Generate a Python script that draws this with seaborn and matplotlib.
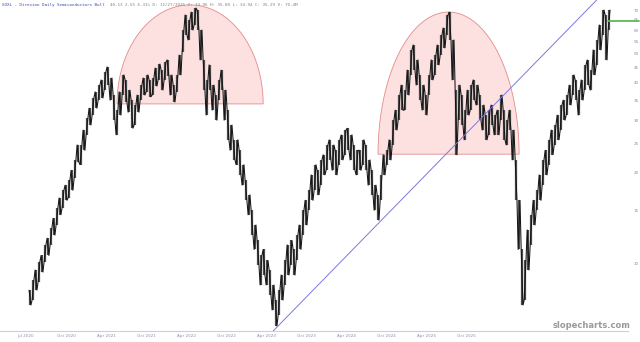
import numpy as np
import pandas as pd
import matplotlib
matplotlib.use("Agg")
import matplotlib.pyplot as plt
import seaborn as sns

# ---- data (price bars) ----
highs = [8.12, 8.77, 9.48, 10.1, 10.6, 11.5, 12.1, 13.1, 14.1, 15.3,
         16.5, 17.5, 18.2, 18.9, 20.4, 22.1, 24.8, 24.8, 27.8, 30.5,
         32.9, 35.6, 37.3, 39.3, 40.9, 43.5, 45.2, 41.5, 36.4, 32.4,
         37.3, 42.5, 40.9, 37.8, 35.0, 33.7, 36.4, 39.3, 41.5, 42.5,
         40.9, 41.5, 44.8, 46.2, 44.1, 46.9, 47.7, 42.5, 39.3, 42.5,
         49.5, 60.0, 67.4, 64.8, 68.9, 71.1, 70.0, 60.0, 47.7, 40.9,
         45.9, 39.3, 36.4, 40.9, 44.1, 37.8, 32.4, 28.9, 25.8, 25.8,
         23.8, 21.3, 18.9, 16.9, 15.0, 13.4, 11.9, 10.6, 11.1, 10.2,
         9.48, 8.45, 7.52, 8.12, 9.12, 10.2, 11.5, 11.9, 11.1, 12.4,
         13.4, 15.0, 16.2, 17.5, 19.7, 21.3, 20.4, 22.1, 23.0, 24.8,
         25.8, 24.8, 23.8, 25.8, 26.8, 27.8, 28.2, 26.8, 24.8, 23.8,
         23.8, 25.8, 24.8, 22.1, 20.4, 18.2, 16.9, 19.7, 23.0, 23.8,
         25.8, 30.0, 32.4, 36.4, 39.3, 37.8, 44.1, 51.5, 53.5, 47.7,
         42.5, 39.3, 36.4, 42.5, 47.7, 49.5, 53.5, 57.8, 61.0, 67.4,
         68.9, 55.6, 37.8, 39.3, 36.4, 32.4, 37.8, 39.3, 40.9, 39.3,
         36.4, 33.7, 31.2, 32.4, 33.7, 31.2, 32.4, 36.4, 32.4, 30.0,
         32.4, 27.8, 22.1, 16.2, 11.1, 10.2, 12.9, 14.5, 16.2, 17.5,
         19.7, 22.1, 23.8, 25.8, 27.8, 28.9, 31.2, 33.7, 35.0, 36.4,
         39.3, 42.5, 40.9, 37.8, 40.9, 45.9, 47.7, 44.1, 51.5, 55.6,
         62.4, 70.0, 67.4, 70.0]
lows = [7.24, 7.52, 8.12, 8.64, 9.33, 10.1, 10.6, 11.5, 12.4, 13.4,
        14.5, 15.3, 16.2, 16.5, 17.5, 19.2, 21.7, 21.3, 23.8, 26.8,
        28.9, 31.2, 32.9, 35.0, 35.6, 37.8, 39.3, 35.0, 30.0, 26.8,
        31.2, 36.4, 34.5, 31.9, 28.2, 28.9, 31.9, 35.0, 36.4, 37.3,
        35.9, 36.4, 39.0, 40.9, 37.8, 40.9, 42.1, 36.4, 34.5, 37.3,
        42.5, 50.7, 57.8, 55.6, 60.0, 62.4, 60.0, 47.7, 37.8, 31.2,
        37.8, 32.4, 30.0, 35.0, 37.8, 30.0, 25.8, 23.8, 22.1, 21.3,
        19.7, 18.2, 16.2, 14.5, 12.4, 11.1, 9.85, 8.45, 9.12, 8.45,
        7.82, 6.97, 6.16, 6.70, 7.52, 8.45, 9.12, 9.85, 9.12, 10.2,
        11.1, 12.4, 13.4, 15.0, 16.2, 17.5, 16.9, 18.2, 19.7, 20.4,
        22.1, 20.4, 19.7, 21.3, 22.1, 23.0, 23.8, 22.1, 20.4, 19.7,
        20.4, 21.3, 20.4, 18.2, 16.9, 15.0, 13.9, 16.2, 19.7, 21.3,
        22.1, 24.8, 27.8, 30.0, 32.4, 32.4, 36.4, 42.5, 44.1, 39.3,
        35.0, 32.4, 31.2, 36.4, 40.9, 42.5, 45.9, 49.5, 52.3, 57.8,
        55.6, 40.9, 23.0, 30.0, 28.9, 25.8, 31.2, 32.4, 35.0, 33.7,
        30.0, 27.8, 25.8, 26.8, 28.9, 26.8, 26.8, 30.0, 25.8, 24.8,
        27.8, 22.1, 16.2, 11.1, 7.24, 7.52, 9.48, 11.5, 13.4, 15.0,
        16.2, 18.2, 19.7, 21.3, 23.0, 24.8, 25.8, 27.8, 30.0, 31.2,
        33.7, 36.4, 35.0, 31.2, 35.0, 37.8, 39.3, 37.8, 42.5, 45.9,
        51.5, 57.8, 47.7, 60.0]

x_labels = ["Jul 2020", "Oct 2020", "Apr 2021", "Oct 2021", "Apr 2022", "Oct 2022",
            "Apr 2023", "Oct 2023", "Apr 2024", "Oct 2024", "Apr 2025", "Oct 2025"]
y_ticks = [10, 15, 20, 25, 30, 35, 40, 45, 50, 55, 60, 65, 70]

# annotations (price levels)
dome1_base, dome1_top = 34.0, 72.8
dome2_base, dome2_top = 23.1, 68.9
trend_p1, trend_p2 = 6.11, 44.8
last_level = 64.3

header_title = "SOXL - Direxion Daily Semiconductors Bull"
header_vals = "40.13 2.55 6.31% D: 11/27/2025 O: 34.96 H: 35.80 L: 34.94 C: 35.29 V: 70.4M"

# ---- figure ----
sns.set_theme(style="white")
fig = plt.figure(figsize=(6.4, 3.42), dpi=100)
ax = fig.add_axes([0, 11 / 342, 628 / 640, 331 / 342])

idx = np.arange(len(highs))
hi = np.array(highs)
lo = np.array(lows)

# zig-zag path through each bar's high and low (alternating order) for a dense bar texture
zx, zy = [], []
for i in idx:
    zx += [i - 0.3, i + 0.3]
    zy += [hi[i], lo[i]] if i % 2 == 0 else [lo[i], hi[i]]
zig = pd.DataFrame({"x": zx, "y": zy})


def dome(x0, x1, base, top):
    t = np.linspace(0, np.pi, 300)
    cx, rx = (x0 + x1) / 2, (x1 - x0) / 2
    lb, lt = np.log(base), np.log(top)
    xs = cx - rx * np.cos(t)
    ys = np.exp(lb + (lt - lb) * np.sin(t))
    ax.fill(xs, ys, facecolor="#fde1e1", edgecolor="#e48a8a", lw=0.6, zorder=0)


dome(29, 77.7, dome1_base, dome1_top)
dome(116, 163, dome2_base, dome2_top)

ax.vlines(idx, lo, hi, color="#4a4a4a", lw=1.6, zorder=2)
sns.lineplot(data=zig, x="x", y="y", ax=ax, sort=False, estimator=None,
             color="#161616", lw=0.75, zorder=3)

ax.set_yscale("log")
ax.set_ylim(5.93, 75.6)
ax.set_xlim(-10, 199.3)

ax.axline((82.3, trend_p1), (166.7, trend_p2), color="#7a7ae0", lw=0.7, zorder=4)
ax.plot([192.7, 203], [last_level, last_level], color="#5cb85c", lw=1.3, clip_on=False, zorder=5)

for s in ["top", "left", "right"]:
    ax.spines[s].set_visible(False)
ax.spines["bottom"].set_color("#cfcfcf")
ax.spines["bottom"].set_linewidth(0.8)

ax.yaxis.tick_right()
ax.yaxis.set_minor_locator(matplotlib.ticker.NullLocator())
ax.set_yticks(y_ticks)
ax.set_yticklabels([str(v) for v in y_ticks])
ax.tick_params(axis="y", length=0, pad=4, labelsize=3, labelcolor="#8c8cb0")
xpos = [-1.33 + 13.35 * k for k in range(len(x_labels))]
ax.set_xticks(xpos)
ax.set_xticklabels(x_labels)
ax.tick_params(axis="x", length=0, pad=2, labelsize=3, labelcolor="#8c8cb0")
ax.set_xlabel("")
ax.set_ylabel("")
ax.grid(False)

fig.text(2 / 640, 1 - 5 / 342, header_title, fontsize=3.1, family="DejaVu Sans Mono",
         color="#3b4fb0", va="center", ha="left")
fig.text(110 / 640, 1 - 5 / 342, header_vals, fontsize=3.1, family="DejaVu Sans Mono",
         color="#7a8a7a", va="center", ha="left")
fig.text(592 / 640, 1 - 325 / 342, "slopecharts.com", fontsize=6, color="#9a9a9a",
         ha="center", va="center", weight="bold")

fig.savefig("out.png", dpi=100)
